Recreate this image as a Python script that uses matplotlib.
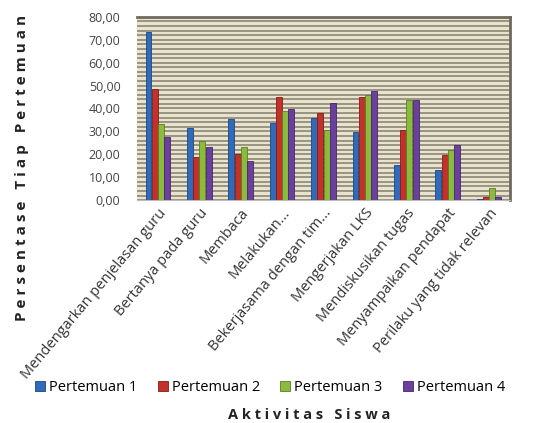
import numpy as np
import matplotlib.pyplot as plt
from matplotlib.ticker import FuncFormatter

activities = ["Mendengarkan penjelasan guru", "Bertanya pada guru", "Membaca",
              "Melakukan...", "Bekerjasama dengan tim...", "Mengerjakan LKS",
              "Mendiskusikan tugas", "Menyampaikan pendapat",
              "Perilaku yang tidak relevan"]
series_names = ["Pertemuan 1", "Pertemuan 2", "Pertemuan 3", "Pertemuan 4"]
pertemuan1 = [73.3, 31.3, 35.3, 33.7, 36.0, 29.6, 15.5, 13.2, 0.3]
pertemuan2 = [48.5, 18.7, 20.2, 45.2, 38.2, 44.9, 30.5, 19.8, 1.5]
pertemuan3 = [33.1, 25.6, 23.4, 38.8, 30.5, 46.0, 43.6, 22.0, 5.1]
pertemuan4 = [27.5, 23.4, 17.1, 39.8, 42.6, 47.7, 43.6, 24.2, 1.5]

colors = ["#2f6bb8", "#c3312b", "#8cba3c", "#6b3f9c"]
edge_colors = ["#1d4680", "#7e1e1a", "#5c7d24", "#44286a"]

plt.rcParams['font.family'] = ['Open Sans', 'DejaVu Sans']


def spaced(s):
    # letter-spaced title text
    return "   ".join(" ".join(w) for w in s.split())


fig = plt.figure(figsize=(5.4, 4.23), dpi=100)
ax = fig.add_axes([0.254, 0.527, 0.69, 0.433])

x = np.arange(len(activities))
width = 0.15
for i, vals in enumerate([pertemuan1, pertemuan2, pertemuan3, pertemuan4]):
    ax.bar(x + (i - 1.5) * width, vals, width * 0.95, color=colors[i],
           edgecolor=edge_colors[i], linewidth=0.6, label=series_names[i],
           zorder=3)

# striped beige background
ax.set_facecolor("#e9e2cc")
ax.set_yticks(np.arange(0, 81, 2), minor=True)
ax.grid(which="minor", axis="y", color="#8c8676", linewidth=1.2, zorder=0)
ax.grid(which="major", axis="y", color="#8c8676", linewidth=1.2, zorder=0)

ax.set_ylim(0, 80)
ax.set_xlim(-0.5, len(activities) - 0.5)
ax.set_yticks(np.arange(0, 81, 10))
ax.yaxis.set_major_formatter(FuncFormatter(lambda v, p: f"{v:.2f}".replace(".", ",")))
ax.tick_params(axis="y", which="both", length=0, labelsize=9,
               labelcolor="#444444", pad=12)
ax.set_xticks(x)
ax.set_xticklabels(activities, rotation=50, ha="right", rotation_mode="anchor",
                   fontsize=10.5, color="#333333")
ax.tick_params(axis="x", length=0, pad=4)

for side in ["top", "right"]:
    ax.spines[side].set_color("#6e6a5e")
    ax.spines[side].set_linewidth(2)
ax.spines["left"].set_visible(False)
ax.spines["bottom"].set_color("#bbbbbb")

fig.text(0.04, 0.603, spaced("Persentase Tiap Pertemuan"),
         rotation=90, ha="center", va="center", fontsize=11,
         fontweight="bold", color="#222222")
fig.text(0.573, 0.02, spaced("Aktivitas Siswa"), ha="center",
         va="center", fontsize=10.5, fontweight="bold", color="#222222")

fig.legend(loc="center", bbox_to_anchor=(0.5, 0.083), ncol=4, frameon=False,
           fontsize=10.5, handlelength=0.7, handleheight=0.7, handletextpad=0.25,
           columnspacing=1.4)

fig.savefig("out.png", dpi=100)
